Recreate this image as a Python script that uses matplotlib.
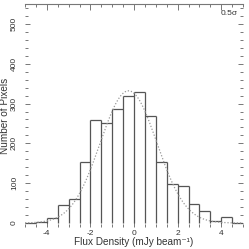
import numpy as np
import matplotlib
matplotlib.use("Agg")
import matplotlib.pyplot as plt
from matplotlib.ticker import MultipleLocator

plt.rcParams["font.family"] = ["Liberation Sans", "DejaVu Sans"]
plt.rcParams["axes.unicode_minus"] = False

# histogram of pixel flux densities, 0.5 mJy bins
bin_edges = np.arange(-5.0, 5.01, 0.5)
counts = [1, 3, 12, 45, 60, 153, 259, 250, 286, 320,
          330, 268, 154, 97, 93, 48, 30, 5, 15, 0]

# gaussian fit drawn over it
fit_amp = 332.0
fit_mean = -0.25
fit_sigma = 1.3

ink = "#555555"

fig = plt.figure(figsize=(2.49, 2.49), dpi=100)
ax = fig.add_axes([25 / 249, 22 / 249, 218 / 249, 223 / 249])

counts = np.array(counts, dtype=float)
padded = np.concatenate([[0], counts, [0]])
edge_h = np.maximum(padded[:-1], padded[1:])

ax.hlines(counts, bin_edges[:-1], bin_edges[1:], color=ink, lw=0.9)
ax.vlines(bin_edges, 0, edge_h, color=ink, lw=0.9)

xs = np.linspace(-5, 5, 400)
ax.plot(xs, fit_amp * np.exp(-(xs - fit_mean) ** 2 / (2 * fit_sigma ** 2)),
        color="#999999", lw=0.9, ls=(0, (1, 1.5)))

ax.set_xlim(-5, 5)
ax.set_ylim(-10, 550)

for s in ["left", "right", "bottom"]:
    ax.spines[s].set_visible(False)
ax.spines["top"].set_color("#777777")
ax.spines["top"].set_linewidth(0.8)

ax.xaxis.set_major_locator(MultipleLocator(2))
ax.xaxis.set_minor_locator(MultipleLocator(0.5))
ax.yaxis.set_major_locator(MultipleLocator(100))
ax.yaxis.set_minor_locator(MultipleLocator(20))

ax.tick_params(axis="x", which="both", top=True, bottom=True, direction="in",
               color="#777777", labelsize=6, labelcolor="#333333", pad=2)
ax.tick_params(axis="x", which="major", length=4, width=0.7)
ax.tick_params(axis="x", which="minor", length=2, width=0.7)
ax.tick_params(axis="y", which="both", left=True, right=True, direction="in",
               color="#777777", labelsize=6, labelcolor="#333333", pad=5)
ax.tick_params(axis="y", which="major", length=3.5, width=0.7)
ax.tick_params(axis="y", which="minor", length=2, width=0.7)
for lab in ax.get_yticklabels():
    lab.set_rotation(90)
    lab.set_va("center")

ax.set_xlabel("Flux Density (mJy beam⁻¹)", fontsize=7.2, color="#333333", va="center")
ax.xaxis.set_label_coords(0.5, -0.068)
ax.set_ylabel("Number of Pixels", fontsize=7.2, color="#333333", labelpad=1)

ax.text(0.975, 0.975, "0.5σ", transform=ax.transAxes, ha="right", va="top",
        fontsize=6, color="#333333")

fig.savefig("out.png", dpi=100)
